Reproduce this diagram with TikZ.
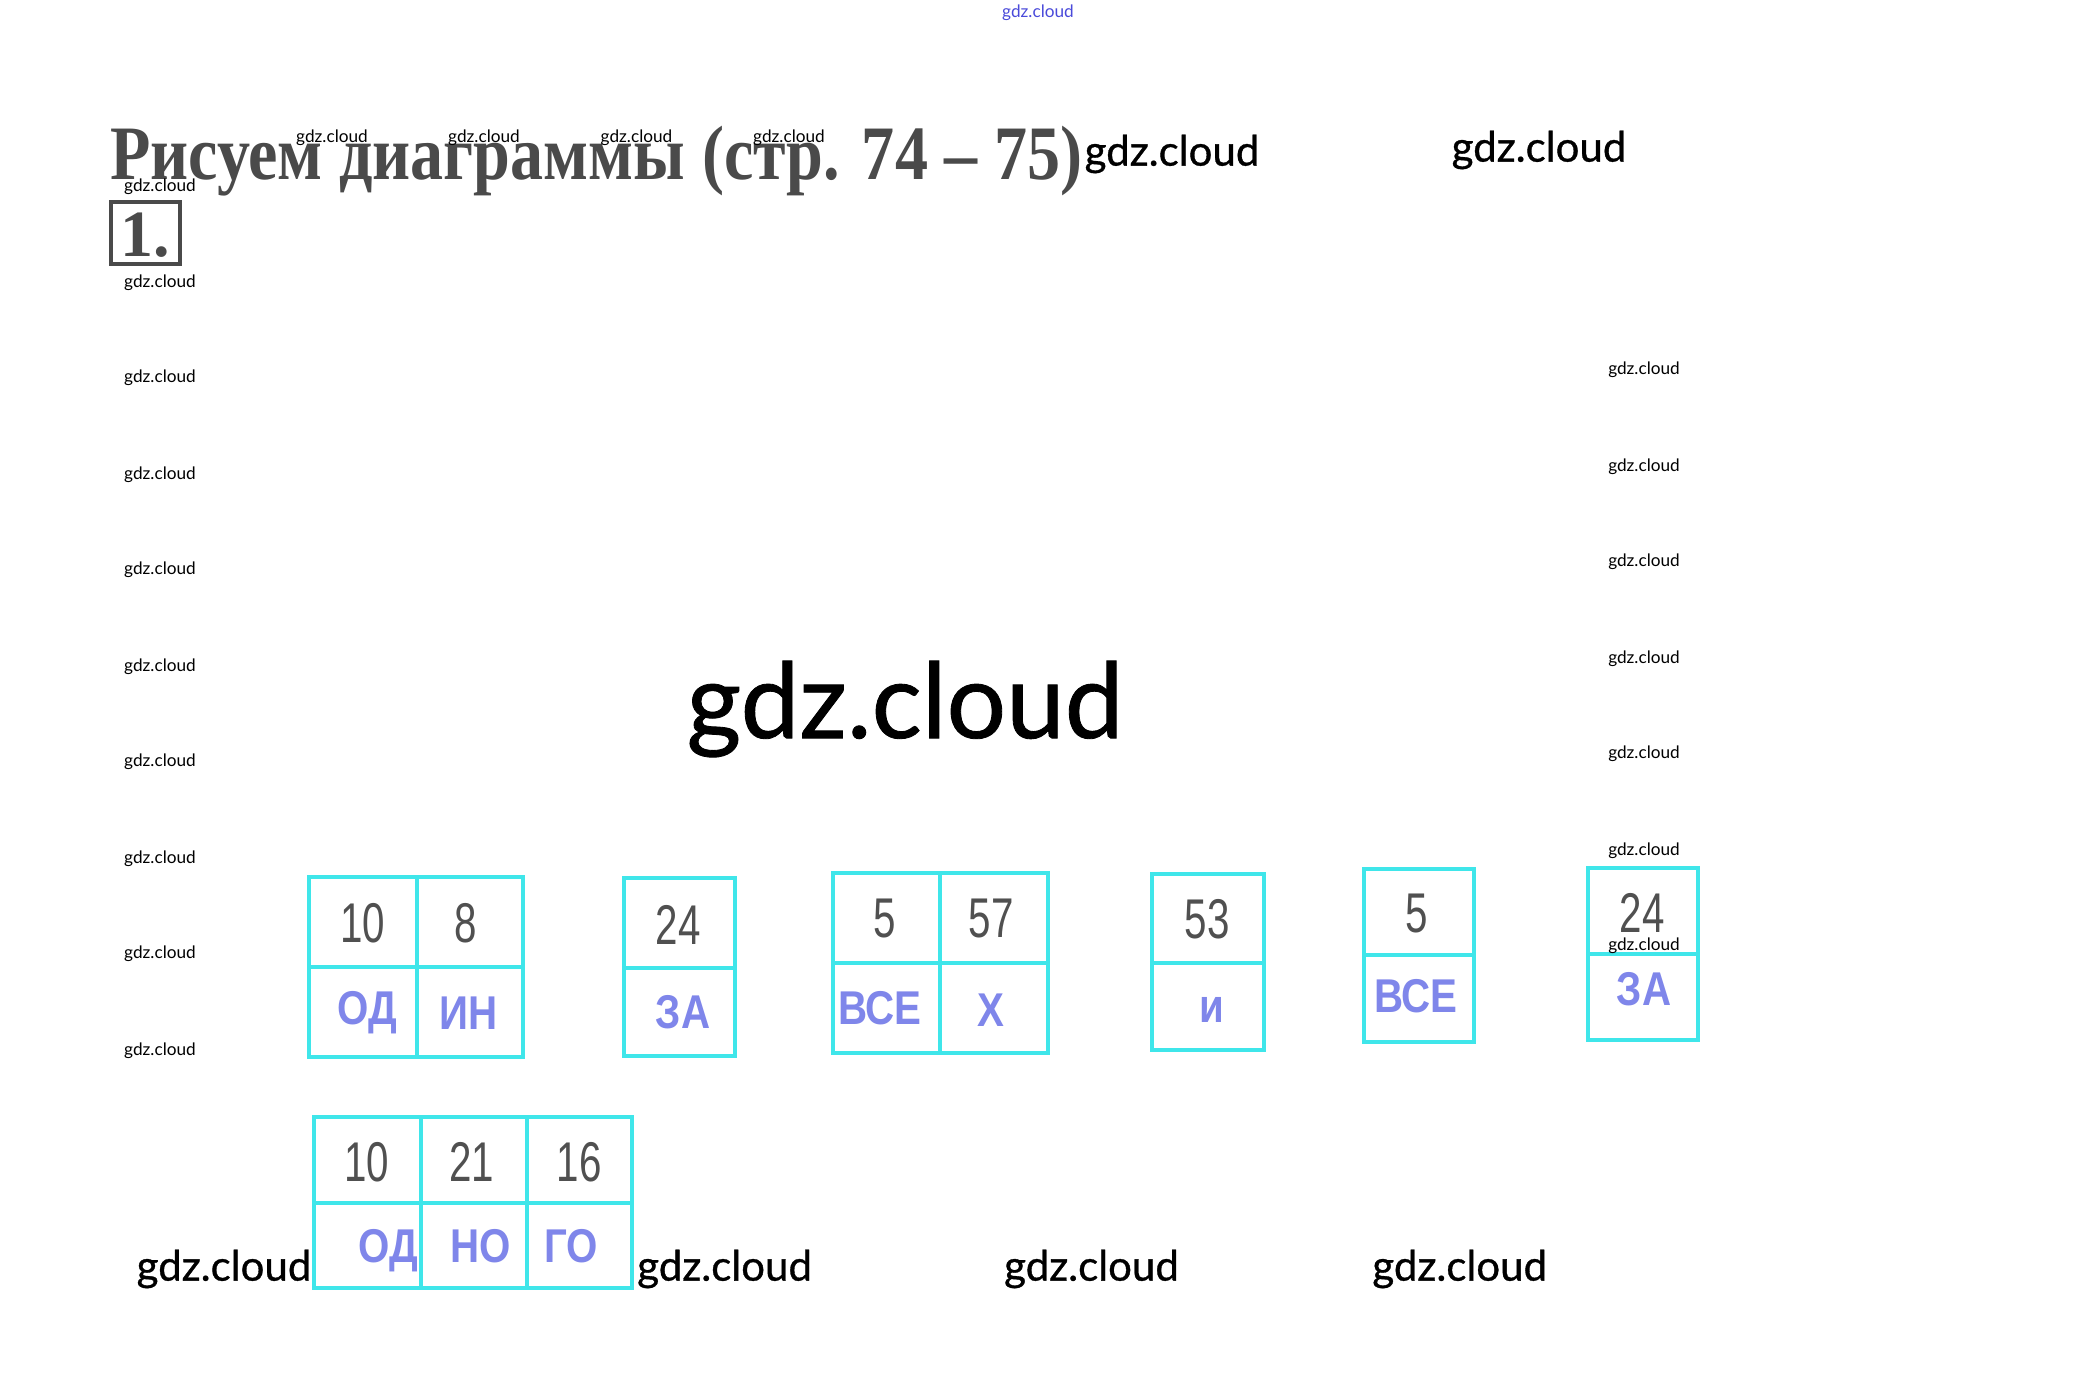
\documentclass[tikz,border=0pt]{standalone}
\usepackage{fontspec}
\setmainfont{Liberation Serif}
\newfontfamily\wmfont{Lato}
\newfontfamily\wmfontb{Lato}[FakeBold=0.8]
\newfontfamily\numfont{Liberation Sans}
\newfontfamily\letfont{Liberation Sans}
\definecolor{cyanline}{HTML}{3FE6EA}
\definecolor{titlegray}{HTML}{4A4A4A}
\definecolor{numgray}{HTML}{505050}
\definecolor{letblue}{HTML}{7F86EA}
\definecolor{wmblue}{HTML}{4A4ADA}
\tikzset{
  cell/.style={draw=cyanline, line width=2pt},
  wmsmall/.style={inner sep=0pt, font=\wmfont\fontsize{8.6}{9}\selectfont},
  wmlarge/.style={inner sep=0pt, font=\wmfontb\fontsize{21}{22}\selectfont},
  wmhuge/.style={inner sep=0pt, font=\wmfontb\fontsize{52.5}{54}\selectfont},
  num/.style={inner sep=0pt, text=numgray, font=\numfont\fontsize{28}{30}\selectfont},
  lett/.style={inner sep=0pt, anchor=base, text=letblue, font=\letfont\bfseries\fontsize{23.7}{25}\selectfont},
}
\newcommand\nm[1]{\scalebox{0.72}[1]{#1}}
\newcommand\lt[1]{\scalebox{0.85}[1]{#1}}
\begin{document}
\begin{tikzpicture}[x=0.5pt,y=-0.5pt]
\useasboundingbox[fill=white] (0,0) rectangle (2077,1375);
% top watermark
\node[inner sep=0pt, text=wmblue, font=\wmfont\fontsize{8.6}{9}\selectfont] (wmtop) at (1038,13) {gdz.cloud};
% title
\node[inner sep=0pt, anchor=base west, text=titlegray, font=\bfseries\fontsize{38.5}{40}\selectfont] (title) at (110,180)
  {\resizebox{486pt}{\height}{Рисуем диаграммы (стр. 74 – 75)}};
% exercise number
\draw[titlegray, line width=2pt] (111,202) rectangle (180,264);
\node[inner sep=0pt, text=titlegray, font=\bfseries\fontsize{33}{34}\selectfont] (num1) at (145,235) {1.};
% small watermarks top row
\foreach \x [count=\i] in {332,484,636.5,789}
  \node[wmsmall] (wt\i) at (\x,138) {gdz.cloud};
% left column
\foreach \y [count=\i] in {187,282.5,378,474.5,570,666.6,762,858.7,954,1050.8}
  \node[wmsmall] (wl\i) at (160,\y) {gdz.cloud};
% right column
\foreach \y [count=\i] in {370,466.6,562,658.7,754,850.7}
  \node[wmsmall] (wr\i) at (1644,\y) {gdz.cloud};
% large watermarks
\node[wmlarge] (wla) at (1172,154) {gdz.cloud};
\node[wmlarge] (wlb) at (1539,150) {gdz.cloud};
\node[wmhuge] (whuge) at (905,709) {gdz.cloud};

% ---- Box 1 ----
\draw[cell] (309,877) rectangle (523,1057);
\draw[cell] (417,877) -- (417,1057);
\draw[cell] (309,967) -- (523,967);
\node[num] (b1n1) at (363,923) {\nm{10}};
\node[num] (b1n2) at (466,923) {\nm{8}};
\node[lett] (b1l1) at (367,1024) {\lt{ОД}};
\node[lett] (b1l2) at (469,1029) {\lt{ИН}};
% ---- Box 2 ----
\draw[cell] (624,878) rectangle (735,1056);
\draw[cell] (624,968) -- (735,968);
\node[num] (b2n1) at (678,925) {\nm{24}};
\node[lett] (b2l1) at (683,1028) {\lt{ЗА}};
% ---- Box 3 ----
\draw[cell] (833,873) rectangle (1048,1053);
\draw[cell] (940,873) -- (940,1053);
\draw[cell] (833,963) -- (1048,963);
\node[num] (b3n1) at (885,919) {\nm{5}};
\node[num] (b3n2) at (991,919) {\nm{57}};
\node[lett] (b3l1) at (880,1024) {\lt{ВСЕ}};
\node[lett] (b3l2) at (991,1026) {\lt{Х}};
% ---- Box 4 ----
\draw[cell] (1152,874) rectangle (1264,1050);
\draw[cell] (1152,963) -- (1264,963);
\node[num] (b4n1) at (1207,919) {\nm{53}};
\node[lett] (b4l1) at (1212,1022) {\lt{и}};
% ---- Box 5 ----
\draw[cell] (1364,869) rectangle (1474,1042);
\draw[cell] (1364,955) -- (1474,955);
\node[num] (b5n1) at (1417,914) {\nm{5}};
\node[lett] (b5l1) at (1416,1012) {\lt{ВСЕ}};
% ---- Box 6 ----
\draw[cell] (1588,868) rectangle (1698,1040);
\draw[cell] (1588,954) -- (1698,954);
\node[num] (b6n1) at (1642,913) {\nm{24}};
\node[lett] (b6l1) at (1644,1005) {\lt{ЗА}};
\node[wmsmall] (wr7) at (1644,946) {gdz.cloud};
% ---- Box 7 ----
\draw[cell] (314,1117) rectangle (632,1288);
\draw[cell] (421,1117) -- (421,1288);
\draw[cell] (527,1117) -- (527,1288);
\draw[cell] (314,1203) -- (632,1203);
\node[num] (b7n1) at (367,1162) {\nm{10}};
\node[num] (b7n2) at (471.6,1162) {\nm{21}};
\node[num] (b7n3) at (579,1162) {\nm{16}};
\node[lett] (b7l1) at (388,1262) {\lt{ОД}};
\node[lett] (b7l2) at (481,1262) {\lt{НО}};
\node[lett] (b7l3) at (571,1262) {\lt{ГО}};
% bottom watermarks
\foreach \x [count=\i] in {224,724.6,1091.5,1459.7}
  \node[wmlarge] (wb\i) at (\x,1269) {gdz.cloud};
\end{tikzpicture}
\end{document}
